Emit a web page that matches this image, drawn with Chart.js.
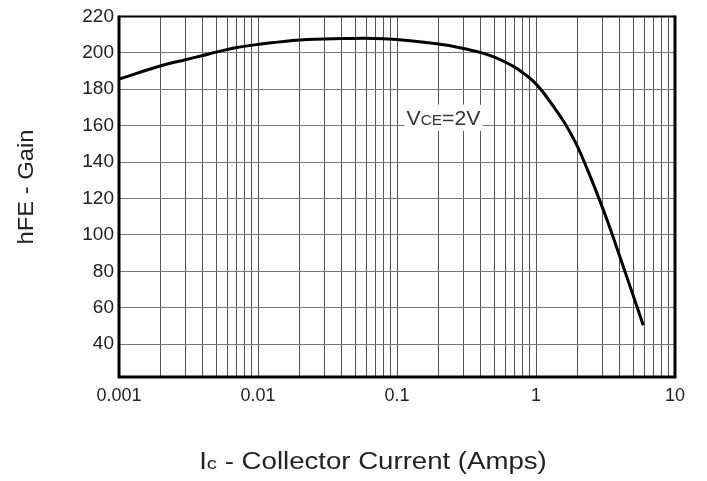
<!DOCTYPE html>
<html>
<head>
<meta charset="utf-8">
<script src="https://cdn.jsdelivr.net/npm/chart.js@4"></script>
<style>
html,body{margin:0;padding:0;background:#fff;}
#wrap{width:707px;height:481px;position:relative;}
</style>
</head>
<body>
<div id="wrap"><canvas id="c" width="707" height="481"></canvas></div>
<script>
// Data
const currents = [0.001, 0.002, 0.003, 0.004, 0.005, 0.007, 0.01, 0.02, 0.04, 0.08, 0.2, 0.335, 0.409, 0.507, 0.598, 0.706, 0.834, 0.984, 1.16, 1.37, 1.62, 1.91, 2.25, 2.66, 3.14, 3.7, 4.67, 5.91];
const gains    = [185.6, 192.9, 196.2, 198.5, 200.4, 202.9, 204.6, 207.1, 207.8, 207.7, 204.8, 201.6, 200.0, 197.5, 195.0, 192.0, 188.2, 183.5, 177.0, 169.3, 161.1, 151.2, 139.2, 125.5, 111.2, 95.9, 73.4, 50.4];
const xMajorTicks = [0.001, 0.01, 0.1, 1, 10];
const xTickLabels = ['0.001', '0.01', '0.1', '1', '10'];
const yTickValues = [40, 60, 80, 100, 120, 140, 160, 180, 200, 220];

const FONT = '"Liberation Sans", Arial, sans-serif';

const points = currents.map((c, i) => ({x: c, y: gains[i]}));

const xAllTicks = [];
for (let d = 0; d < xMajorTicks.length; d++) {
  const base = xMajorTicks[d];
  if (d === xMajorTicks.length - 1) { xAllTicks.push(base); break; }
  for (let m = 1; m <= 9; m++) xAllTicks.push(+(base * m).toPrecision(3));
}

function drawParts(ctx, parts, cx, baseY, sx) {
  let total = 0;
  parts.forEach(p => { ctx.font = p[1] + 'px ' + FONT; total += ctx.measureText(p[0]).width; });
  ctx.save();
  ctx.translate(cx, baseY);
  ctx.scale(sx, 1);
  let x = -total / 2;
  ctx.textAlign = 'left';
  ctx.textBaseline = 'alphabetic';
  parts.forEach(p => {
    ctx.font = p[1] + 'px ' + FONT;
    ctx.fillText(p[0], x, 0);
    x += ctx.measureText(p[0]).width;
  });
  ctx.restore();
}

const decorPlugin = {
  id: 'decor',
  beforeDatasetsDraw(chart) {
    const ctx = chart.ctx;
    const xs = chart.scales.x, ys = chart.scales.y;
    const ax = xs.getPixelForValue(0.216), ay = ys.getPixelForValue(164.4);
    ctx.save();
    ctx.fillStyle = '#fff';
    ctx.fillRect(ax - 39, ay - 13, 78, 26);
    ctx.fillStyle = '#333';
    drawParts(ctx, [['V', 20], ['CE', 14.5], ['=2V', 20]], ax, ay + 7, 1.06);
    ctx.restore();
  },
  afterDraw(chart) {
    const ctx = chart.ctx;
    const a = chart.chartArea;
    ctx.save();
    ctx.strokeStyle = '#000';
    ctx.lineWidth = 2;
    ctx.beginPath();
    ctx.moveTo(a.left, a.top); ctx.lineTo(a.right, a.top);
    ctx.stroke();
    ctx.lineWidth = 3;
    ctx.beginPath();
    ctx.moveTo(a.right, a.top - 1); ctx.lineTo(a.right, a.bottom);
    ctx.moveTo(a.left, a.top - 1); ctx.lineTo(a.left, a.bottom);
    ctx.moveTo(a.left - 1.5, a.bottom); ctx.lineTo(a.right + 1.5, a.bottom);
    ctx.stroke();
    // y axis title
    ctx.fillStyle = '#222';
    ctx.save();
    ctx.translate(33, 187);
    ctx.rotate(-Math.PI / 2);
    drawParts(ctx, [['hFE - Gain', 22]], 0, 0, 1.08);
    ctx.restore();
    // x axis title with small "c"
    drawParts(ctx, [['I', 23], ['c', 17], [' - Collector Current (Amps)', 23]], 373, 469, 1.2);
    ctx.restore();
  }
};

new Chart(document.getElementById('c'), {
  type: 'line',
  data: {
    datasets: [{
      data: points,
      borderColor: '#000',
      borderWidth: 3,
      pointRadius: 0,
      fill: false,
      tension: 0.4
    }]
  },
  options: {
    responsive: false,
    animation: false,
    layout: {padding: {left: 0, right: 32, top: 16, bottom: 0}},
    plugins: {legend: {display: false}, tooltip: {enabled: false}},
    scales: {
      x: {
        type: 'logarithmic',
        min: 0.001,
        max: 10,
        afterBuildTicks(scale) { scale.ticks = xAllTicks.map(v => ({value: v})); },
        afterFit(scale) { scale.height = 104; },
        ticks: {
          autoSkip: false,
          maxRotation: 0,
          padding: 8,
          color: '#222',
          font: {family: FONT, size: 18},
          callback(v) {
            const i = xMajorTicks.findIndex(m => Math.abs(m - v) / m < 1e-6);
            return i >= 0 ? xTickLabels[i] : '';
          }
        },
        grid: {color: '#555', lineWidth: 1, drawTicks: false},
        border: {display: false}
      },
      y: {
        type: 'linear',
        min: 22,
        max: 220,
        afterBuildTicks(scale) { scale.ticks = yTickValues.map(v => ({value: v})); },
        afterFit(scale) { scale.width = 119; },
        ticks: {
          padding: 5,
          color: '#222',
          font: {family: FONT, size: 19}
        },
        grid: {color: '#777', lineWidth: 1, drawTicks: false},
        border: {display: false}
      }
    }
  },
  plugins: [decorPlugin]
});
</script>
</body>
</html>
